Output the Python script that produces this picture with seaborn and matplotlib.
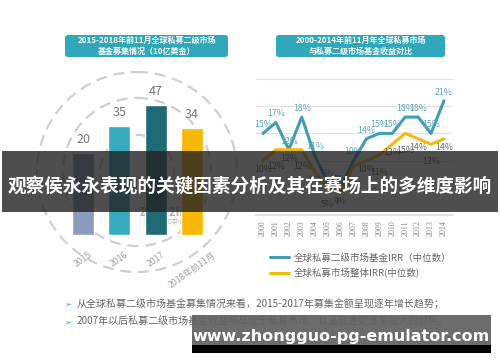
import seaborn as sns
import numpy as np
import pandas as pd
import matplotlib.pyplot as plt
from matplotlib.patches import Circle, FancyBboxPatch, Rectangle

# left chart: fundraising, 10亿美金
bar_years = ['2015', '2016', '2017', '2018年前11月']
bar_vals = [20, 35, 47, 34]
bar_colors = ['#8b9bbb', '#35abc0', '#1f6b73', '#f6b900']

# right chart: IRR
irr_years = list(range(2000, 2015))
irr_secondary = [15, 17, 12, 18, 11, 6, 5, 10, 14, 15, 15, 18, 18, 15, 21]
irr_overall = [10, 12, 12, 12, 8, 5, 4, 9, 10, 11, 13, 15, 14, 13, 14]
series_names = ['全球私募二级市场基金IRR（中位数）', '全球私募市场整体IRR(中位数)']

notes = ['从全球私募二级市场基金募集情况来看，2015-2017年募集金额呈现逐年增长趋势；',
         '2007年以后私募二级市场基金收益明显优于私募市场，且呈现差距逐渐拉大的趋势。']
banner = '观察侯永永表现的关键因素分析及其在赛场上的多维度影响'
site = 'www.zhongguo-pg-emulator.com'

sns.set_theme(style='white')
plt.rcParams['font.family'] = ['Noto Sans CJK SC', 'DejaVu Sans']

W, H = 500, 362
fig = plt.figure(figsize=(5, 3.62), dpi=100)


def px_axes(x0, y0, x1, y1, z):
    return fig.add_axes([x0 / W, 1 - y1 / H, (x1 - x0) / W, (y1 - y0) / H], zorder=z)


# background layer: arcs, title boxes, notes
bg = px_axes(0, 0, W, H, 0)
bg.set_xlim(0, W)
bg.set_ylim(H, 0)
bg.axis('off')
for r in [100, 74, 37]:
    bg.add_patch(Circle((137, 172), r, fill=False, ls=(0, (5, 3)), lw=1.6, ec='#cfcfcf'))

titles = [(65, 163, '2015-2018年前11月全球私募二级市场\n基金募集情况（10亿美金）'),
          (276, 169, '2000-2014年前11月年全球私募市场\n与私募二级市场基金收益对比')]
for x0, w, t in titles:
    bg.add_patch(FancyBboxPatch((x0, 35), w, 22, boxstyle='round,pad=0,rounding_size=3',
                                fc='#2fa8bc', ec='none'))
    bg.text(x0 + w / 2, 46, t, ha='center', va='center', color='white', fontsize=5.8,
            fontweight='bold', linespacing=1.25)

bg.text(168, 212, 'ZERO2IPO', ha='center', va='center', color='#9a9a9a', fontsize=8,
        fontweight='bold', alpha=0.8)
bg.text(165, 222, '清科研究中心', ha='center', va='center', color='#9a9a9a', fontsize=5, alpha=0.8)

for i, n in enumerate(notes):
    y = 304 + i * 18
    bg.text(64, y, '➢', ha='left', va='center', color='#2fa8bc', fontsize=6,
            family=['DejaVu Sans'])
    bg.text(77, y, n, ha='left', va='center', color='#666666', fontsize=7.2)

# bar chart
BASE = -26
axb = px_axes(65, 60, 210, 235, 1)
axb.patch.set_alpha(0)
xs = np.arange(len(bar_vals))
axb.bar(xs, [v - BASE for v in bar_vals], bottom=BASE, width=0.61, color=bar_colors)
for x, v in zip(xs, bar_vals):
    axb.annotate(str(v), (x, v), xytext=(0, 5), textcoords='offset points',
                 ha='center', va='bottom', fontsize=9, color='#777777')
axb.set_xlim(-0.5, 3.5)
axb.set_ylim(BASE, 72)
axb.set_yticks([])
axb.set_xticks(xs)
axb.set_xticklabels(bar_years, rotation=35, fontsize=6.3, color='#a0a0a0')
axb.tick_params(axis='x', length=0, pad=11)
sns.despine(ax=axb, left=True, bottom=True)

# line chart
df = pd.DataFrame({
    'year': irr_years * 2,
    'irr': irr_secondary + irr_overall,
    'series': [series_names[0]] * len(irr_years) + [series_names[1]] * len(irr_years),
})
axl = px_axes(256, 79, 453, 215, 1)
axl.patch.set_alpha(0)
sns.lineplot(data=df, x='year', y='irr', hue='series', palette=['#3f9db8', '#f5b90a'],
             lw=2.2, ax=axl)
for x, v in zip(irr_years, irr_secondary):
    axl.annotate(f'{v}%', (x, v), xytext=(0, 3), textcoords='offset points',
                 ha='center', va='bottom', fontsize=6.3, color='#5aaac4')
for i, (x, v) in enumerate(zip(irr_years, irr_overall)):
    axl.annotate(f'{v}%', (x, v), xytext=(0, -3 - 6 * (i % 2)), textcoords='offset points',
                 ha='center', va='top', fontsize=6.3, color='#666666')
axl.set_xlim(1999.46, 2014.7)
axl.set_ylim(0, 25)
axl.set_yticks(range(0, 26, 5))
axl.set_yticklabels([])
axl.yaxis.grid(True, color='#e2e2e2', lw=0.8)
axl.set_xticks(irr_years)
axl.set_xticklabels([str(y) for y in irr_years], rotation=90, fontsize=5.8, color='#888888',
                    family=['Liberation Serif'])
axl.tick_params(axis='both', length=0, pad=4)
axl.set_xlabel('')
axl.set_ylabel('')
sns.despine(ax=axl, left=True)
axl.spines['bottom'].set_color('#e2e2e2')
axl.legend(loc='upper left', bbox_to_anchor=(266 / W, 1 - 249 / H), bbox_transform=fig.transFigure,
           frameon=False, fontsize=6.8, handlelength=2.0, handletextpad=0.5,
           labelcolor='#666666', labelspacing=0.6, borderaxespad=0)

# top layer: banner and site strip
top = px_axes(0, 0, W, H, 5)
top.set_xlim(0, W)
top.set_ylim(H, 0)
top.axis('off')
top.add_patch(Rectangle((2, 151), 496, 61, fc='#222222', alpha=0.8, ec='none'))
top.text(250, 186, banner, ha='center', va='center', color='white', fontsize=13.4,
         fontweight='bold')
top.add_patch(Rectangle((192, 315), 299, 38, fc='#606060', alpha=0.92, ec='none'))
top.add_patch(Rectangle((192, 345), 299, 8, fc='#000000', ec='none'))
top.text(341, 336, site, ha='center', va='center', color='white', fontsize=11.5,
         fontweight='bold', family=['DejaVu Sans'])

fig.savefig('out.png', dpi=100)
